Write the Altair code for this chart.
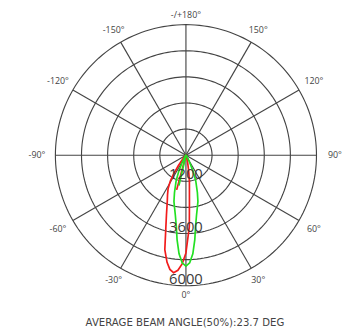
import altair as alt
import pandas as pd
import numpy as np

# ---- data ----
RING_VALUES = [1200, 2400, 3600, 4800, 6000]
RING_LABELS = [1200, 3600, 6000]
SPOKE_ANGLES = [0, 30, 60, 90, 120, 150, 180, 210, 240, 270, 300, 330]
LABEL_ANGLES = [0, 30, 60, 90, 120, 150, 180, -150, -120, -90, -60, -30]
LABEL_TEXTS = ["0°", "30°", "60°", "90°", "120°", "150°", "-/+180°",
               "-150°", "-120°", "-90°", "-60°", "-30°"]

RED_ANGLE = [-90, -60, -45, -40, -36, -33, -31, -28, -25, -22, -18, -15.6, -12.6,
             -10, -8, -6, -4, -2, 0, 2.7, 4.3, 7.7, 10, 13, 18, 30, 60, 90, -15]
RED_CD = [0, 30, 100, 250, 600, 1100, 1400, 1750, 2000, 2290, 2900, 3430, 4450,
          5000, 5300, 5430, 5300, 5000, 4490, 3300, 2150, 1190, 700, 350, 150, 50, 10, 0, 1650]

GREEN_ANGLE = [-90, -60, -40, -30, -27, -24, -21, -17, -14.5, -12, -10, -7.6, -6, -4, -2,
               0, 2, 4, 6, 7.6, 10, 12, 14.5, 17, 21, 24, 27, 30, 40, 60, 90, -13]
GREEN_CD = [0, 10, 60, 200, 400, 800, 1260, 1800, 2200, 2500, 2800, 3330, 3900, 4540, 4950,
            5100, 4950, 4540, 3900, 3330, 2800, 2500, 2200, 1800, 1260, 800, 400, 200, 60, 10, 0, 1430]

TITLE = "AVERAGE BEAM ANGLE(50%):23.7 DEG"
MAX_CD = 6000

# ---- tables ----
curves = pd.concat([
    pd.DataFrame({"series": "red", "idx": range(len(RED_ANGLE)), "angle": RED_ANGLE, "cd": RED_CD}),
    pd.DataFrame({"series": "green", "idx": range(len(GREEN_ANGLE)), "angle": GREEN_ANGLE, "cd": GREEN_CD}),
])
ring_rows = []
for r in RING_VALUES:
    for a in range(0, 362, 2):
        ring_rows.append({"ring": r, "angle": a, "cd": r})
rings = pd.DataFrame(ring_rows)
spokes = pd.DataFrame({"angle": SPOKE_ANGLES, "cd": MAX_CD})
alabels = pd.DataFrame({"angle": LABEL_ANGLES, "text": LABEL_TEXTS})
rlabels = pd.DataFrame({"cd": RING_LABELS, "text": [str(v) for v in RING_LABELS]})

W, H = 334, 319
k = 132.5 / MAX_CD
cx, cy = 180.6, 146.0
XS = alt.Scale(domain=[-cx / k, (W - cx) / k], nice=False, zero=False)
YS = alt.Scale(domain=[-(H - cy) / k, cy / k], nice=False, zero=False)

def X(f):
    return alt.X(f, type="quantitative", scale=XS, axis=None)

def Y(f):
    return alt.Y(f, type="quantitative", scale=YS, axis=None)

xs = "datum.cd * sin(datum.angle * PI / 180)"
ys = "-datum.cd * cos(datum.angle * PI / 180)"

ring_layer = alt.Chart(rings).transform_calculate(x=xs, y=ys).mark_line(
    color="#444444", strokeWidth=1.15
).encode(x=X("x"), y=Y("y"), detail="ring:N", order="angle:Q")

spoke_layer = alt.Chart(spokes).transform_calculate(
    x0="0", y0="0", x1=xs, y1=ys
).mark_rule(color="#444444", strokeWidth=1.15).encode(
    x=X("x0"), y=Y("y0"), x2="x1:Q", y2="y1:Q"
)

curve_layer = alt.Chart(curves).transform_calculate(x=xs, y=ys).mark_line(
    strokeWidth=1.7
).encode(
    x=X("x"), y=Y("y"), detail="series:N", order="idx:Q",
    color=alt.Color("series:N", scale=alt.Scale(domain=["red", "green"],
                                                  range=["#f21b1b", "#22e022"]), legend=None),
)

alabel_layer = alt.Chart(alabels).transform_calculate(
    lr="6445 + 400 * abs(sin(datum.angle * PI / 180))",
    x="datum.lr * sin(datum.angle * PI / 180)",
    y="-datum.lr * cos(datum.angle * PI / 180)",
).mark_text(font="Open Sans", fontSize=9, color="#444", align="center", baseline="middle").encode(
    x=X("x"), y=Y("y"), text="text:N"
)

rlabel_layer = alt.Chart(rlabels).transform_calculate(
    x="0", y="-datum.cd"
).mark_text(font="Open Sans", fontSize=15, color="#3a3a3a", align="center",
            baseline="alphabetic", dy=-2).encode(
    x=X("x"), y=Y("y"), text="text:N"
)

title_layer = alt.Chart(pd.DataFrame({"t": [TITLE]})).mark_text(
    font="DejaVu Sans", fontSize=10.3, color="#444", align="center", baseline="middle"
).encode(x=alt.value(cx - 1), y=alt.value(316), text="t:N")

chart = alt.layer(
    ring_layer, spoke_layer, curve_layer, alabel_layer, rlabel_layer, title_layer
).properties(width=W, height=H, padding=0).configure_view(strokeWidth=0)

chart.save("out.html", embed_options={"renderer": "svg", "actions": False})
